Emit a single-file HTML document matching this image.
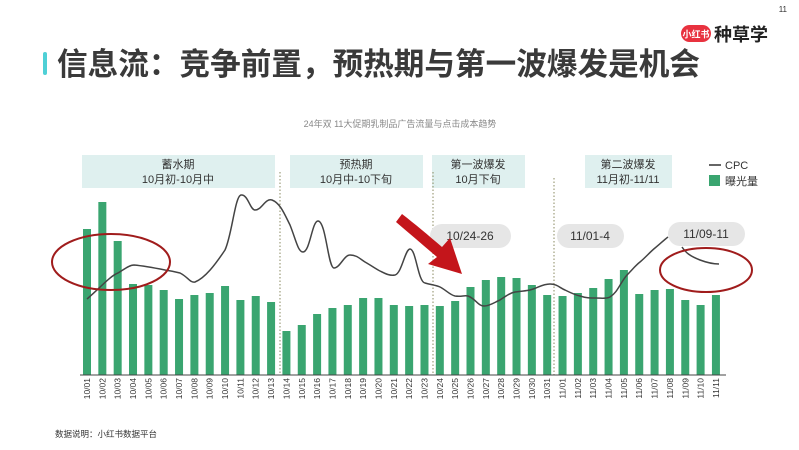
<!DOCTYPE html>
<html><head><meta charset="utf-8"><style>
body{margin:0;background:#fff;}
svg{display:block;font-family:"Liberation Sans","Noto Sans CJK SC",sans-serif;}
</style></head><body>
<svg width="799" height="450" viewBox="0 0 799 450" xmlns="http://www.w3.org/2000/svg">
<text x="787" y="12" font-size="8" fill="#333" text-anchor="end">11</text>
<rect x="681" y="25" width="30" height="17" rx="8.5" fill="#e8323f"/>
<text x="696" y="37.5" font-size="9" fill="#fff" text-anchor="middle" font-weight="bold">小红书</text>
<text x="714" y="41" font-size="18" font-weight="bold" fill="#222">种草学</text>
<rect x="43" y="52" width="4" height="23" rx="2" fill="#4fd0d6"/>
<text x="57" y="75" font-size="31" font-weight="bold" fill="#3a3a3a" textLength="643" lengthAdjust="spacingAndGlyphs">信息流：竞争前置，预热期与第一波爆发是机会</text>
<text x="400" y="127" font-size="9" fill="#888" text-anchor="middle">24年双 11大促期乳制品广告流量与点击成本趋势</text>
<g font-size="11" fill="#333" text-anchor="middle">
<rect x="82" y="155" width="193" height="33" fill="#dff0ef"/><text x="178" y="168">蓄水期</text><text x="178" y="183">10月初-10月中</text>
<rect x="290" y="155" width="133" height="33" fill="#dff0ef"/><text x="356" y="168">预热期</text><text x="356" y="183">10月中-10下旬</text>
<rect x="432" y="155" width="93" height="33" fill="#dff0ef"/><text x="478" y="168">第一波爆发</text><text x="478" y="183">10月下旬</text>
<rect x="585" y="155" width="87" height="33" fill="#dff0ef"/><text x="628" y="168">第二波爆发</text><text x="628" y="183">11月初-11/11</text>
</g>
<line x1="709" y1="165" x2="721" y2="165" stroke="#333" stroke-width="1.5"/>
<text x="725" y="169" font-size="11" fill="#333">CPC</text>
<rect x="709" y="175" width="11" height="11" fill="#3aa570"/>
<text x="725" y="185" font-size="11" fill="#333">曝光量</text>
<g stroke="#8a8a60" stroke-width="1" stroke-dasharray="1.5,2">
<line x1="280" y1="172" x2="280" y2="375"/><line x1="433" y1="172" x2="433" y2="375"/><line x1="554" y1="178" x2="554" y2="375"/>
</g>
<g id="bars" fill="#3aa570"></g>
<line x1="80" y1="375" x2="726" y2="375" stroke="#444" stroke-width="1"/>
<g id="labels" font-size="8.5" fill="#333"></g>
<path d="M87,299 C100,288 110,276 118,273 C126,268 130,265 134,265 C145,266 155,268 165,270 C172,271 176,272 180,273 C188,277 190,283 195,282 C205,278 215,265 225,250 C232,235 235,196 241,195 C248,194 250,210 255,210 C262,210 265,198 272,200 C280,203 284,213 290,225 C296,240 298,252 303,252 C310,252 312,221 318,221 C326,221 328,268 334,268 C340,268 344,255 350,255 C357,255 360,259 365,262 C372,266 376,269 380,271 C386,274 390,276 395,275 C402,273 405,249 410,249 C416,249 418,282 425,283 C432,285 436,285 440,287 C446,290 450,295 455,296 C462,297 464,295 468,296 C476,299 478,306 484,306 C490,306 495,302 500,300 C506,296 510,293 515,292 C521,291 526,291 530,290 C538,288 542,284 550,284 C557,284 560,288 565,290 C571,293 575,295 580,296 C586,298 590,298 595,298 C602,298 606,299 610,297 C618,292 620,283 627,275 C632,270 636,265 640,262 C646,257 650,252 655,248 C660,244 664,240 668,237" fill="none" stroke="#444" stroke-width="1.5"/>
<path d="M682,247 C686,253 690,256 700,260 C708,263 714,264 719,264" fill="none" stroke="#444" stroke-width="1.5"/>
<g font-size="12" fill="#333" text-anchor="middle">
<rect x="430" y="224" width="81" height="24" rx="12" fill="#e6e6e6"/><text x="470" y="240">10/24-26</text>
<rect x="557" y="224" width="67" height="24" rx="12" fill="#e6e6e6"/><text x="590" y="240">11/01-4</text>
<rect x="668" y="222" width="77" height="24" rx="12" fill="#e6e6e6"/><text x="706" y="238">11/09-11</text>
</g>
<ellipse cx="111" cy="262" rx="59" ry="28" fill="none" stroke="#a01c1c" stroke-width="2"/>
<ellipse cx="706" cy="270" rx="46" ry="22" fill="none" stroke="#a01c1c" stroke-width="2"/>
<path d="M396,222 L402,214 C415,224 428,235 442,247 L450,238 L462,274 L428,264 L437,257 C423,245 410,234 396,222 Z" fill="#c4151b"/>
<text x="55" y="437" font-size="8.5" fill="#333">数据说明：小红书数据平台</text>
<script>
var tops=[229,202,241,284,285,290,299,295,293,286,300,296,302,331,325,314,308,305,298,298,305,306,305,306,301,287,280,277,278,285,295,296,293,288,279,270,294,290,289,300,305,295];
var names=[];for(var i=1;i<=31;i++)names.push("10/"+(i<10?"0":"")+i);for(var i=1;i<=11;i++)names.push("11/"+(i<10?"0":"")+i);
var b=document.getElementById("bars"),l=document.getElementById("labels"),ns="http://www.w3.org/2000/svg";
for(var i=0;i<42;i++){var x=87+i*15.34;var r=document.createElementNS(ns,"rect");r.setAttribute("x",x-4);r.setAttribute("y",tops[i]);r.setAttribute("width",8);r.setAttribute("height",375-tops[i]);b.appendChild(r);
var t=document.createElementNS(ns,"text");t.setAttribute("transform","translate("+(x+3)+",378) rotate(-90)");t.setAttribute("text-anchor","end");t.textContent=names[i];l.appendChild(t);}
</script>
</svg>
</body></html>
